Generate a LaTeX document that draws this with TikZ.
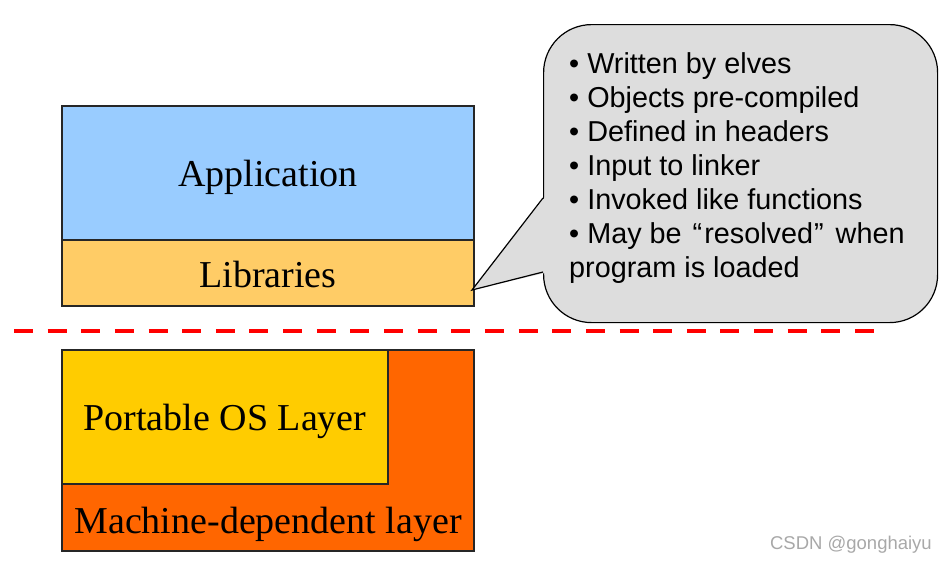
\documentclass[tikz,border=0pt]{standalone}
\usepackage{fontspec}
\setmainfont{Liberation Serif}
\newfontfamily\calloutfont{Liberation Sans}
\definecolor{appblue}{HTML}{99CCFF}
\definecolor{libyellow}{HTML}{FFCC66}
\definecolor{osyellow}{HTML}{FFCC00}
\definecolor{machorange}{HTML}{FF6600}
\definecolor{bubblegray}{HTML}{DDDDDD}
\definecolor{dashred}{HTML}{FF0000}
\definecolor{wmgray}{HTML}{A8A8A8}
\tikzset{
  layerbox/.style={draw=black!85, line width=1.2pt, anchor=north west, inner sep=0pt, outer sep=0pt},
  serifbig/.style={font=\fontsize{38}{40}\selectfont, anchor=base, inner sep=0pt},
  bubbletext/.style={font=\calloutfont\fontsize{28.8}{34}\selectfont, anchor=base west, inner sep=0pt},
}
\begin{document}
\begin{tikzpicture}[x=1pt,y=-1pt]
\useasboundingbox (0,0) rectangle (947,563);
% upper stack
\node[layerbox, fill=appblue, minimum width=412, minimum height=134] (app) at (62,106) {};
\node[layerbox, fill=libyellow, minimum width=412, minimum height=66] (lib) at (62,240) {};
\node[serifbig] (apptext) at (268,186) {Application};
\node[serifbig] (libtext) at (268,287) {Libraries};
% separator
\draw[dashred, line width=4pt, dash pattern=on 19pt off 14.64pt] (14,331) -- (874,331);
% lower stack
\node[layerbox, fill=machorange, minimum width=412, minimum height=201] (mach) at (62,350) {};
\node[layerbox, fill=osyellow, minimum width=326, minimum height=134] (os) at (62,350) {};
\node[serifbig] (ostext) at (225,430) {Portable OS Layer};
\node[serifbig] (machtext) at (268,533) {Machine-dependent layer};
% callout
\node[draw=black, fill=bubblegray, line width=1.2pt, rounded corners=48pt, anchor=north west,
      minimum width=394, minimum height=298, inner sep=0pt] (bubble) at (543,24) {};
\coordinate (tip) at (472,290);
\fill[bubblegray] (545,197) -- (tip) -- (545,273) -- cycle;
\draw[line width=1.2pt, line join=miter] (543,198) -- (tip) -- (543,272);
\foreach \t [count=\i] in {{• Written by elves},{• Objects pre-compiled},{• Defined in headers},{• Input to linker},{• Invoked like functions},{• May be\hspace{3pt} “\hspace{2pt}resolved\hspace{1pt}”\hspace{4pt} when},{program is loaded}}
  \node[bubbletext] (line\i) at (569,{73+34.1*(\i-1)}) {\t};
% watermark
\node[font=\calloutfont\fontsize{18.5}{20}\selectfont, text=wmgray, anchor=base east, inner sep=0pt] (wm) at (932,549) {CSDN @gonghaiyu};
\end{tikzpicture}
\end{document}
